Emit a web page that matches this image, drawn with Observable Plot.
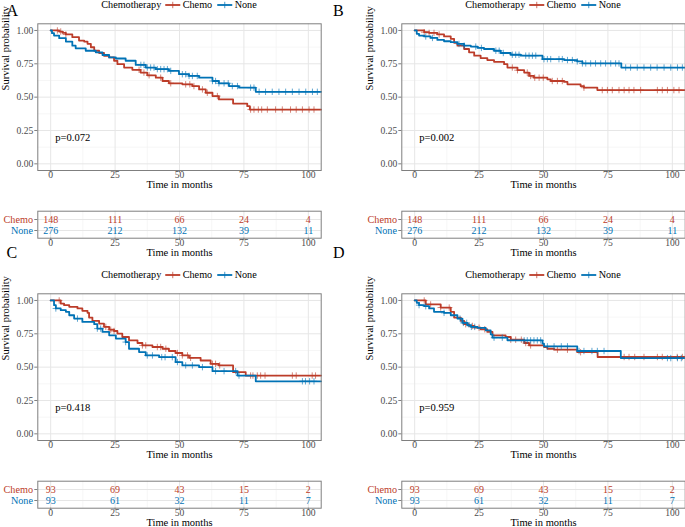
<!DOCTYPE html>
<html><head><meta charset="utf-8">
<script src="https://cdn.jsdelivr.net/npm/d3@7"></script>
<script src="https://cdn.jsdelivr.net/npm/@observablehq/plot@0.6"></script>
<style>
html,body{margin:0;padding:0;background:#fff;overflow:hidden}
#fig{position:relative;width:685px;height:527px;overflow:hidden;font-family:"Liberation Serif","Times New Roman",serif;background:#fff}
#fig svg{position:absolute;overflow:visible}
.letter{position:absolute;font-size:16px;line-height:16px;color:#000}
.legend{position:absolute;display:flex;align-items:center;font-size:10.2px;line-height:12px;color:#000;white-space:nowrap;transform:translateX(-50%)}
.legend svg{position:static !important}
</style></head><body><div id="fig"></div>
<script>
// ---------- data ----------
const groups = ["Chemo", "None"];
const legendTitle = "Chemotherapy";
const panelLabels = ["A", "B", "C", "D"];
const pValues = ["p=0.072", "p=0.002", "p=0.418", "p=0.959"];
const timeTicks = [0, 25, 50, 75, 100];
const probTicks = [0, 0.25, 0.5, 0.75, 1];
const riskTimes = [0, 25, 50, 75, 100];

// Panel A
const aChemoT = [0, 3.3, 4.6, 5.9, 8.4, 11.0, 13.0, 14.3, 15.6, 16.9, 18.8, 20.7, 22.7, 24.6, 25.9, 28.5, 31.7, 34.9, 37.5, 40.8, 43.4, 45.9, 51.1, 55.0, 57.6, 60.2, 62.8, 65.3, 70.8, 76.3, 77.3];
const aChemoS = [1, .992, .982, .970, .950, .924, .917, .900, .874, .848, .831, .810, .798, .773, .747, .722, .705, .684, .664, .646, .621, .604, .596, .583, .558, .533, .508, .483, .452, .432, .407];
const aChemoCens = [2.6, 3.9, 5.9, 34.3, 36.2, 38.2, 42.7, 46.6, 52.4, 54, 55.6, 58.9, 60.8, 64.7, 77.6, 78.9, 80.6, 81.9, 84.1, 87.3, 89.9, 93.1, 95.3, 97.7, 100.3, 102.2];
const aNoneT = [0, 0.5, 1.3, 3.3, 5.9, 8.4, 9.7, 13.6, 17.5, 20.1, 22.7, 25.3, 29.1, 33.0, 36.9, 40.8, 45.9, 49.8, 53.7, 57.6, 62.8, 65.3, 69.2, 73.1, 79.6];
const aNoneS = [1, .980, .962, .942, .917, .886, .866, .848, .836, .816, .798, .790, .773, .742, .722, .710, .697, .672, .659, .646, .621, .604, .583, .571, .540];
const aNoneCens = [35, 36.2, 37.5, 38.8, 40.1, 41.4, 42.7, 44, 45.3, 46.6, 51.1, 52.4, 53.7, 55, 56.9, 62.8, 64, 65.3, 67.3, 68.9, 70.5, 72.5, 77.6, 78.9, 80.9, 83.4, 86, 88.6, 91.2, 93.8, 96.4, 99, 101.6, 103.5];
const aRiskChemo = [148, 111, 66, 24, 4];
const aRiskNone = [276, 212, 132, 39, 11];

// Panel B
const bChemoT = [0, 3.7, 5.6, 8.8, 11.4, 14.0, 15.3, 16.6, 19.2, 21.1, 23.1, 25.6, 28.2, 30.8, 34.7, 36.0, 39.9, 42.5, 44.4, 46.3, 51.5, 52.8, 58.0, 59.3, 64.4, 65.7, 70.9];
const bChemoS = [1, .987, .982, .970, .955, .937, .907, .886, .861, .836, .811, .793, .778, .765, .747, .722, .702, .684, .659, .646, .634, .621, .614, .596, .583, .571, .553];
const bChemoCens = [3.7, 5.6, 7.5, 9.5, 37.9, 39.9, 43.7, 45, 46.6, 48.3, 49.9, 53.4, 55.4, 57.3, 65.7, 72.8, 74.8, 76.7, 79.3, 81.3, 83.2, 85.1, 87.7, 94.2, 96.1, 98.1, 100.6, 102.6];
const bNoneT = [0, 0.8, 1.7, 3.7, 6.2, 8.8, 11.4, 14.0, 16.6, 19.2, 21.8, 24.4, 26.9, 30.8, 33.4, 37.3, 41.2, 49.6, 58.0, 63.1, 65.1, 80.2];
const bNoneS = [1, .975, .962, .955, .944, .929, .919, .912, .899, .886, .879, .869, .861, .848, .831, .818, .811, .785, .778, .768, .753, .722];
const bNoneCens = [4.3, 6.9, 17.2, 19.2, 23.7, 25.9, 31.5, 32.8, 34.4, 37.9, 39.2, 40.5, 43.1, 44.4, 45.7, 47, 50.2, 51.5, 52.8, 56, 57.3, 59.3, 61.2, 63.1, 65.1, 66.4, 68.3, 70.2, 72.2, 74.1, 76.1, 78, 79.3, 81.9, 83.8, 86.4, 89, 91.6, 94.1, 96.8, 99.4, 102, 103.9];
const bRiskChemo = [148, 111, 66, 24, 4];
const bRiskNone = [276, 212, 132, 39, 11];

// Panel C
const cChemoT = [0, 3.9, 5.2, 7.2, 10.4, 12.3, 14.3, 14.9, 16.2, 18.8, 20.7, 22.7, 24.6, 25.9, 27.8, 30.4, 33.7, 35.6, 39.5, 43.4, 45.9, 48.5, 51.1, 53.7, 58.2, 62.1, 65.3, 70.8, 75.7];
const cChemoS = [1, .977, .965, .952, .940, .922, .907, .872, .847, .827, .802, .781, .771, .751, .726, .701, .681, .663, .651, .638, .621, .606, .588, .570, .550, .525, .513, .462, .437];
const cChemoCens = [3.3, 21.4, 23.3, 24.6, 35.6, 36.9, 41.4, 42.7, 44.7, 49.2, 51.1, 53.1, 54.3, 62.8, 64, 65.6, 77.6, 78.5, 80.2, 81.5, 83.2, 93.8, 95.3, 101.5, 102.8];
const cNoneT = [0, 1.3, 2.0, 3.9, 5.9, 7.2, 9.1, 12.3, 16.9, 18.1, 20.1, 22.7, 25.3, 29.1, 30.4, 34.3, 36.9, 42.1, 48.5, 51.1, 57.6, 62.8, 72.5, 79.6];
const cNoneS = [1, .965, .940, .927, .915, .889, .864, .839, .822, .789, .764, .739, .714, .688, .638, .613, .588, .575, .538, .513, .500, .470, .437, .394];
const cNoneCens = [2.0, 10.4, 18.1, 19.4, 29.1, 37.5, 39.5, 43.1, 44.4, 47.2, 49.2, 52.4, 55, 58.9, 64, 67.3, 71.8, 73.1, 97.7, 98.9, 100.5, 102.2];
const cRiskChemo = [93, 69, 43, 15, 2];
const cRiskNone = [93, 61, 32, 11, 7];

// Panel D
const dChemoT = [0, 4.3, 10.1, 14.0, 15.3, 17.9, 19.2, 21.1, 23.1, 25.6, 28.2, 30.2, 35.3, 37.3, 42.5, 44.4, 50.2, 51.5, 54.1, 63.1, 71.0];
const dChemoS = [1, .970, .947, .915, .872, .847, .822, .809, .796, .784, .764, .739, .726, .706, .681, .663, .651, .638, .631, .612, .576];
const dChemoCens = [3.7, 6.2, 10.1, 13.4, 19.8, 22.4, 25, 27.2, 37.3, 39.2, 41.4, 43.1, 45, 55.4, 59.3, 64.4, 81.3, 83.2, 85.4, 89, 94.2, 96.1, 101.9, 103.9];
const dNoneT = [0, 0.8, 1.7, 3.7, 5.6, 7.5, 11.4, 14.0, 16.6, 18.5, 20.5, 21.8, 24.4, 27.6, 29.5, 30.2, 36.0, 49.6, 50.2, 63.1, 80.0];
const dNoneS = [1, .982, .965, .957, .940, .915, .907, .889, .864, .832, .814, .802, .794, .776, .746, .721, .701, .676, .656, .621, .568];
const dNoneCens = [1.7, 4.3, 11.4, 17.6, 18.9, 20.2, 22.0, 23.3, 30.8, 34.0, 42.5, 43.7, 45, 46.3, 47.6, 48.9, 51.5, 54.1, 56.9, 59.3, 63.8, 65.7, 68.8, 70.9, 73.5, 98.1, 99.4, 102, 103.5];
const dRiskChemo = [93, 69, 43, 15, 2];
const dRiskNone = [93, 61, 32, 11, 7];

// ---------- styling / layout ----------
const RED = "#BC3C29", BLUE = "#0072B5";
const FONT = "Liberation Serif, Times New Roman, serif";
const xDomain = [-5, 105];
const W = 330, KM_H = 192, TAB_H = 60;
const mL = 37.3, mR = 9.3;
const offsets = [[0, 0], [364, 0], [0, 270.3], [364, 270.3]];
const letterPos = [[6.5, 3.2], [333, 3.2], [6.5, 245.2], [333, 245.2]];

const panels = [
  {chemo: [aChemoT, aChemoS, aChemoCens], none: [aNoneT, aNoneS, aNoneCens], risk: [aRiskChemo, aRiskNone]},
  {chemo: [bChemoT, bChemoS, bChemoCens], none: [bNoneT, bNoneS, bNoneCens], risk: [bRiskChemo, bRiskNone]},
  {chemo: [cChemoT, cChemoS, cChemoCens], none: [cNoneT, cNoneS, cNoneCens], risk: [cRiskChemo, cRiskNone]},
  {chemo: [dChemoT, dChemoS, dChemoCens], none: [dNoneT, dNoneS, dNoneCens], risk: [dRiskChemo, dRiskNone]}
];

const minorTime = d3.pairs(timeTicks).map(([a, b]) => (a + b) / 2);
const minorProb = d3.pairs(probTicks).map(([a, b]) => (a + b) / 2);

const plusSymbol = {
  draw(ctx, size) {
    const r = Math.sqrt(size / Math.PI);
    ctx.moveTo(-r, 0); ctx.lineTo(r, 0);
    ctx.moveTo(0, -r); ctx.lineTo(0, r);
  }
};
function survAt(ts, ss, t) { let s = 1; for (let i = 0; i < ts.length; i++) if (ts[i] <= t) s = ss[i]; return s; }

const fig = document.getElementById("fig");
const gridMajor = {stroke: "#e6e6e6", strokeOpacity: 1, strokeWidth: 1};
const gridMinor = {stroke: "#f2f2f2", strokeOpacity: 1, strokeWidth: 0.7};
const tickStyle = {stroke: "#7f7f7f", fill: "#4d4d4d", fontSize: 9.6, label: null};

function kmPlot(p, pval) {
  const series = [[p.chemo, RED], [p.none, BLUE]];
  const marks = [
    Plot.gridX(minorTime, gridMinor), Plot.gridY(minorProb, gridMinor),
    Plot.gridX(timeTicks, gridMajor), Plot.gridY(probTicks, gridMajor)
  ];
  for (const [[ts, ss, cens], color] of series) {
    const pts = ts.map((t, i) => ({t, s: ss[i]}));
    pts.push({t: xDomain[1], s: ss[ss.length - 1]});
    marks.push(Plot.line(pts, {x: "t", y: "s", curve: "step-after", stroke: color, strokeWidth: 1.8}));
    marks.push(Plot.dot(cens, {x: d => d, y: d => survAt(ts, ss, d), symbol: plusSymbol, r: 3.2, stroke: color, fill: "none", strokeWidth: 0.9, strokeOpacity: 0.7}));
  }
  marks.push(
    Plot.text([pval], {frameAnchor: "bottom-left", lineAnchor: "middle", dx: 17.5, dy: -33, textAnchor: "start", fontSize: 10.6, fill: "#000"}),
    Plot.axisX({...tickStyle, ticks: timeTicks, tickSize: 2.5, tickPadding: -1.5, tickFormat: d => String(d)}),
    Plot.axisY({...tickStyle, ticks: probTicks, tickSize: 3, tickPadding: 1.5, tickFormat: d => d.toFixed(2)}),
    Plot.frame({stroke: "#7f7f7f", strokeWidth: 1}),
    Plot.text(["Time in months"], {frameAnchor: "bottom", lineAnchor: "middle", dy: 14.6, fontSize: 10.5, fill: "#000"}),
    Plot.text(["Survival probability"], {frameAnchor: "left", lineAnchor: "middle", dx: -32.6, dy: -6.7, rotate: -90, fontSize: 10.5, fill: "#000"})
  );
  return Plot.plot({
    width: W, height: KM_H, marginLeft: mL, marginRight: mR, marginTop: 23.3, marginBottom: 22,
    x: {domain: xDomain, label: null}, y: {domain: [-0.05, 1.05], label: null},
    style: {fontFamily: FONT, fontSize: "9.6px", background: "transparent", color: "#000"},
    marks
  });
}

function riskPlot(p) {
  const rows = [];
  groups.forEach((g, gi) => riskTimes.forEach((t, i) => rows.push({g, t, n: p.risk[gi][i]})));
  const colorOf = g => g === "Chemo" ? RED : BLUE;
  return Plot.plot({
    width: W, height: TAB_H, marginLeft: mL, marginRight: mR, marginTop: 10.7, marginBottom: 22.3,
    x: {domain: xDomain, label: null},
    y: {type: "point", domain: groups, padding: 0.727, label: null},
    style: {fontFamily: FONT, fontSize: "9.6px", background: "transparent", color: "#000"},
    marks: [
      Plot.gridX(minorTime, gridMinor),
      Plot.gridX(timeTicks, gridMajor),
      Plot.gridY(groups, gridMajor),
      Plot.text(rows.filter(r => r.g === "Chemo"), {x: "t", y: "g", text: d => String(d.n), fill: RED, fontSize: 10}),
      Plot.text(rows.filter(r => r.g === "None"), {x: "t", y: "g", text: d => String(d.n), fill: BLUE, fontSize: 10}),
      Plot.axisX({...tickStyle, ticks: timeTicks, tickSize: 2.5, tickPadding: -1.5, tickFormat: d => String(d)}),
      Plot.axisY({...tickStyle, tickSize: 3, tickPadding: 0, tickFormat: () => ""}),
      ...groups.map(g => Plot.text([g], {y: () => g, frameAnchor: "left", dx: -4.8, textAnchor: "end", fill: colorOf(g), fontSize: 10.2})),
      Plot.frame({stroke: "#7f7f7f", strokeWidth: 1}),
      Plot.text(["Time in months"], {frameAnchor: "bottom", lineAnchor: "middle", dy: 14.3, fontSize: 10.5, fill: "#000"})
    ]
  });
}

function legendKey(color) {
  const ns = "http://www.w3.org/2000/svg";
  const s = document.createElementNS(ns, "svg");
  s.setAttribute("width", 15); s.setAttribute("height", 10);
  s.innerHTML = `<line x1="0" x2="15" y1="5" y2="5" stroke="${color}" stroke-width="1.8"/>` +
    `<line x1="7.5" x2="7.5" y1="1.8" y2="8.2" stroke="${color}" stroke-width="0.9" stroke-opacity="0.8"/>`;
  return s;
}

panels.forEach((p, k) => {
  const [ox, oy] = offsets[k];
  const km = kmPlot(p, pValues[k]);
  km.style.left = ox + "px"; km.style.top = oy + "px";
  fig.appendChild(km);
  const rt = riskPlot(p);
  rt.style.left = ox + "px"; rt.style.top = (oy + 200) + "px";
  fig.appendChild(rt);

  const lg = document.createElement("div");
  lg.className = "legend";
  lg.style.left = (ox + (mL + (W - mR)) / 2) + "px";
  lg.style.top = (oy - 1.3) + "px";
  const t0 = document.createElement("span"); t0.textContent = legendTitle; t0.style.marginRight = "4px"; lg.appendChild(t0);
  groups.forEach((g, gi) => {
    const key = legendKey(gi === 0 ? RED : BLUE);
    key.style.marginRight = "2.5px";
    lg.appendChild(key);
    const sp = document.createElement("span"); sp.textContent = g;
    if (gi === 0) sp.style.marginRight = "5px";
    lg.appendChild(sp);
  });
  fig.appendChild(lg);

  const lt = document.createElement("div");
  lt.className = "letter";
  lt.textContent = panelLabels[k];
  lt.style.left = letterPos[k][0] + "px"; lt.style.top = letterPos[k][1] + "px";
  fig.appendChild(lt);
});
</script></body></html>
